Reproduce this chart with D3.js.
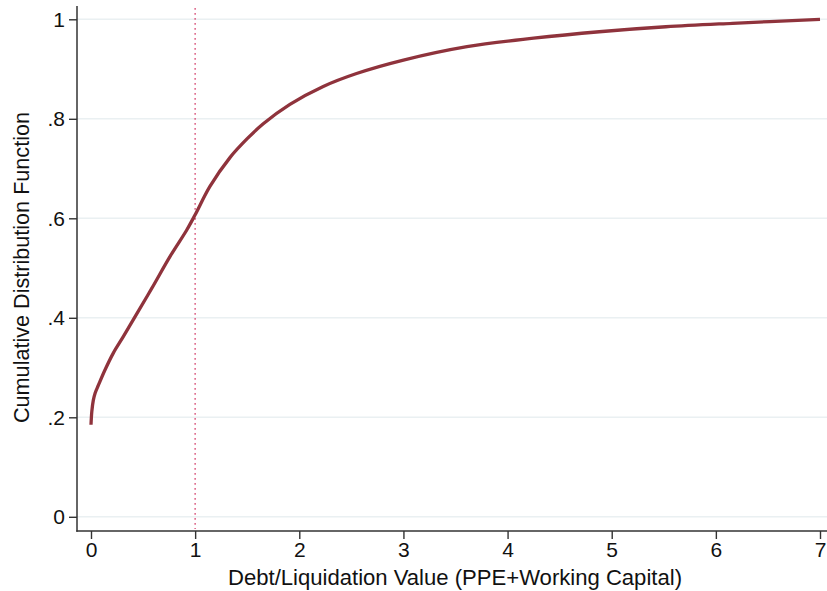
<!DOCTYPE html>
<html>
<head>
<meta charset="utf-8">
<script src="https://cdn.jsdelivr.net/npm/d3@7"></script>
<style>
  body { margin: 0; background: #fff; }
  svg { display: block; font-family: "Liberation Sans", Arial, sans-serif; }
</style>
</head>
<body>
<div id="chart"></div>
<script>
// Chart size
var svgWidth = 827;
var svgHeight = 591;

// CDF
var cdfX = [0, 0.008, 0.022, 0.04, 0.07, 0.134, 0.214, 0.31, 0.422, 0.583, 0.758, 0.918, 1.0,
  1.142, 1.334, 1.5, 1.654, 1.91, 2.23, 2.55, 3.0, 3.61, 4.25, 4.88, 5.52, 6.16, 7.0];
var cdfY = [0.185, 0.212, 0.234, 0.249, 0.264, 0.295, 0.329, 0.362, 0.402, 0.459, 0.523, 0.576, 0.607,
  0.664, 0.722, 0.760, 0.790, 0.829, 0.865, 0.891, 0.918, 0.945, 0.962, 0.975, 0.985, 0.992, 1.0];

var xTicks = [0, 1, 2, 3, 4, 5, 6, 7];
var yTicks = [0, 0.2, 0.4, 0.6, 0.8, 1];
var yTickLabels = ["0", ".2", ".4", ".6", ".8", "1"];
var refLineX = 1;

var data = cdfX.map((x, i) => ({ x: x, y: cdfY[i] }));

// plot frame
var plotLeft = 77, plotRight = 827, plotTop = 6, plotBottom = 531;

var x = d3.scaleLinear().domain([0, 7]).range([91, 820]);
var y = d3.scaleLinear().domain([0, 1]).range([516.8, 19.3]);

var svg = d3.select("#chart")
  .append("svg")
  .attr("width", svgWidth)
  .attr("height", svgHeight);

// horizontal gridlines
svg.append("g")
  .selectAll("line")
  .data(yTicks)
  .join("line")
  .attr("x1", plotLeft)
  .attr("x2", plotRight)
  .attr("y1", d => y(d))
  .attr("y2", d => y(d))
  .attr("stroke", "#eaf0f2")
  .attr("stroke-width", 1.6);

// dotted reference line at x = 1
svg.append("line")
  .attr("x1", x(refLineX))
  .attr("x2", x(refLineX))
  .attr("y1", 8)
  .attr("y2", 529)
  .attr("stroke", "#d9577e")
  .attr("stroke-width", 1.4)
  .attr("stroke-dasharray", "1.7,3.3");

// the curve
var line = d3.line()
  .x(d => x(d.x))
  .y(d => y(d.y))
  .curve(d3.curveCatmullRom.alpha(0.5));

svg.append("path")
  .datum(data)
  .attr("d", line)
  .attr("fill", "none")
  .attr("stroke", "#8f333c")
  .attr("stroke-width", 3.3)
  .attr("stroke-linecap", "butt");

// y axis
var leftAxis = d3.axisLeft(y)
  .tickValues(yTicks)
  .tickFormat((d, i) => yTickLabels[i])
  .tickSize(8)
  .tickPadding(4);

var yAxis = svg.append("g")
  .attr("transform", `translate(${plotLeft},0)`)
  .call(leftAxis);
yAxis.select(".domain").remove();

// x axis
var bottomAxis = d3.axisBottom(x)
  .tickValues(xTicks)
  .tickFormat(d3.format("d"))
  .tickSize(8)
  .tickPadding(3);

var xAxis = svg.append("g")
  .attr("transform", `translate(0,${plotBottom})`)
  .call(bottomAxis);
xAxis.select(".domain").remove();

svg.selectAll(".tick line")
  .attr("stroke", "#333")
  .attr("stroke-width", 1.4);
svg.selectAll(".tick text")
  .attr("font-family", "Liberation Sans, Arial, sans-serif")
  .attr("font-size", "21px")
  .attr("fill", "#111");

// axis lines
svg.append("line")
  .attr("x1", plotLeft).attr("x2", plotLeft)
  .attr("y1", plotTop).attr("y2", plotBottom + 0.7)
  .attr("stroke", "#333").attr("stroke-width", 1.5);
svg.append("line")
  .attr("x1", plotLeft - 0.7).attr("x2", plotRight)
  .attr("y1", plotBottom).attr("y2", plotBottom)
  .attr("stroke", "#333").attr("stroke-width", 1.5);

// axis titles
svg.append("text")
  .attr("x", 455)
  .attr("y", 585)
  .attr("text-anchor", "middle")
  .attr("font-size", "22px")
  .attr("fill", "#111")
  .attr("textLength", 454)
  .attr("lengthAdjust", "spacingAndGlyphs")
  .text("Debt/Liquidation Value (PPE+Working Capital)");

svg.append("text")
  .attr("transform", "rotate(-90)")
  .attr("x", -267.5)
  .attr("y", 29)
  .attr("text-anchor", "middle")
  .attr("font-size", "22px")
  .attr("fill", "#111")
  .attr("textLength", 311)
  .attr("lengthAdjust", "spacingAndGlyphs")
  .text("Cumulative Distribution Function");
</script>
</body>
</html>
